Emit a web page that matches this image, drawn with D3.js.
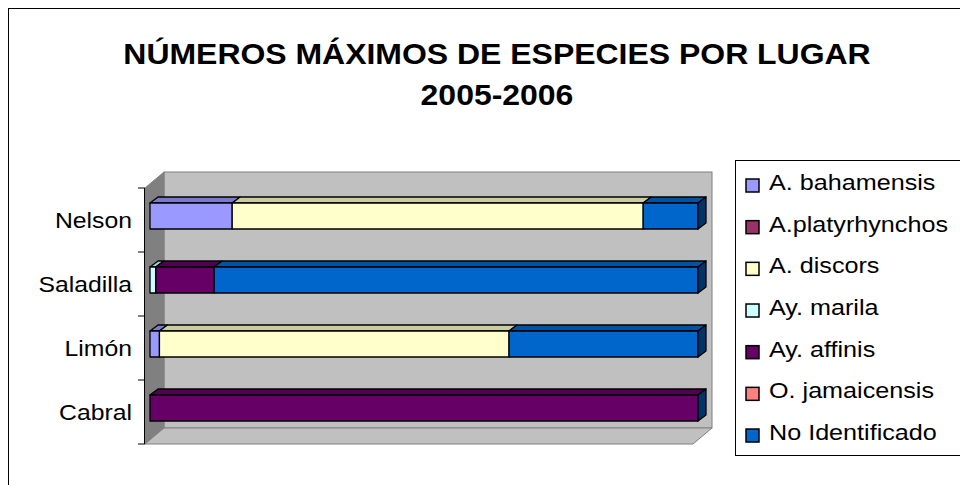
<!DOCTYPE html>
<html>
<head>
<meta charset="utf-8">
<script src="https://cdn.jsdelivr.net/npm/d3@7"></script>
<style>
  html, body { margin: 0; padding: 0; background: #fff; }
  svg { display: block; font-family: "Liberation Sans", Arial, sans-serif; }
</style>
</head>
<body>
<div id="chart"></div>
<script>
// categories in Excel order (first one sits at the bottom)
const categories = ['Cabral', 'Limón', 'Saladilla', 'Nelson'];

const seriesNames = ['A. bahamensis', 'A.platyrhynchos', 'A. discors', 'Ay. marila',
                     'Ay. affinis', 'O. jamaicensis', 'No Identificado'];
const seriesColors = ['#9999FF', '#993366', '#FFFFCC', '#CCFFFF', '#660066', '#FF8080', '#0066CC'];

// maximum counts per place
const bahamensis    = [0, 1, 0, 3];
const platyrhynchos = [0, 0, 0, 0];
const discors       = [0, 37, 0, 15];
const marila        = [0, 0, 1, 0];
const affinis       = [10, 0, 10, 0];
const jamaicensis   = [0, 0, 0, 0];
const noIdent       = [0, 20, 83, 2];

const titleLines = ['NÚMEROS MÁXIMOS DE ESPECIES POR LUGAR', '2005-2006'];

const seriesValues = [bahamensis, platyrhynchos, discors, marila, affinis, jamaicensis, noIdent];

const width = 960, height = 485;

// rows for d3.stack
const rows = categories.map((c, i) => {
    let r = {cat: c};
    seriesNames.forEach((s, k) => r[s] = seriesValues[k][i]);
    return r;
});

const stacked = d3.stack()
    .keys(seriesNames)
    .offset(d3.stackOffsetExpand)(rows);

const svg = d3.select('#chart')
    .append('svg')
        .attr('width', width)
        .attr('height', height);

// stretch text a bit, old Excel renders it wider than Arial metrics
function stretch(sel, factor, anchorRight) {
    sel.each(function(){
        let t = d3.select(this);
        let len = this.getComputedTextLength() * factor;
        t.attr('textLength', len).attr('lengthAdjust', 'spacingAndGlyphs');
        if (anchorRight != null) t.attr('x', anchorRight - len);
    });
}

// outer chart frame
svg.append('rect')
    .attr('x', 8.5).attr('y', 8.5)
    .attr('width', 980).attr('height', 500)
    .attr('fill', '#fff')
    .attr('stroke', '#000');

// title
svg.append('g')
    .selectAll('text')
    .data(titleLines)
    .join('text')
        .attr('x', 497)
        .attr('y', (d, i) => 63.5 + i * 41)
        .attr('text-anchor', 'middle')
        .attr('font-weight', 'bold')
        .attr('font-size', 30)
        .text(d => d)
        .call(stretch, 1.065);

// 3D box geometry
const front = {x0: 145, x1: 693, y0: 188, y1: 444};
const depth = {dx: 19, dy: 16};

const x = d3.scaleLinear().domain([0, 1]).range([front.x0, front.x1]);
const y = d3.scaleBand()
    .domain(categories.slice().reverse())
    .range([front.y0, front.y1]);

// walls
const walls = svg.append('g')
    .attr('stroke', '#808080')
    .attr('stroke-width', 1);

walls.append('rect')
    .attr('x', front.x0 + depth.dx).attr('y', front.y0 - depth.dy)
    .attr('width', front.x1 - front.x0).attr('height', front.y1 - front.y0)
    .attr('fill', '#C0C0C0');

walls.append('path')
    .attr('d', `M${front.x0},${front.y0}L${front.x0 + depth.dx},${front.y0 - depth.dy}L${front.x0 + depth.dx},${front.y1 - depth.dy}L${front.x0},${front.y1}Z`)
    .attr('fill', '#808080');

walls.append('path')
    .attr('d', `M${front.x0},${front.y1}L${front.x1},${front.y1}L${front.x1 + depth.dx},${front.y1 - depth.dy}L${front.x0 + depth.dx},${front.y1 - depth.dy}Z`)
    .attr('fill', '#C0C0C0');

// category axis
const axis = svg.append('g').attr('stroke', '#000');
axis.append('line')
    .attr('x1', front.x0 - 0.5).attr('x2', front.x0 - 0.5)
    .attr('y1', front.y0).attr('y2', front.y1);
axis.selectAll('line.tick')
    .data(d3.range(categories.length + 1))
    .join('line')
        .classed('tick', true)
        .attr('x1', front.x0 - 7).attr('x2', front.x0)
        .attr('y1', i => front.y0 + i * y.step())
        .attr('y2', i => front.y0 + i * y.step());

svg.append('g')
    .selectAll('text')
    .data(categories)
    .join('text')
        .attr('x', 132)
        .attr('y', d => y(d) + y.bandwidth() / 2 + 7.5)
        .attr('font-size', 22.5)
        .text(d => d)
        .call(stretch, 1.1, 132);

// bars
const barH = 26;
const barOff = {dx: 5, dy: -4};   // bar front face position inside the box
const barDepth = {dx: 8, dy: -6};

const barTop = c => y(c) + (y.bandwidth() - barH) / 2 + barOff.dy;
const bx = v => x(v) + barOff.dx;

const bars = svg.append('g')
    .attr('stroke', '#000')
    .attr('stroke-width', 1.3)
    .attr('stroke-linejoin', 'round');

stacked.forEach((layer, k) => {
    let col = d3.rgb(seriesColors[k]);
    let topCol = d3.rgb(col.r * 0.8, col.g * 0.8, col.b * 0.8);
    let segs = layer.filter(d => d[1] - d[0] > 0);

    // top faces
    bars.append('g')
        .selectAll('path')
        .data(segs)
        .join('path')
            .attr('fill', topCol)
            .attr('d', d => {
                let t = barTop(d.data.cat);
                let a = bx(d[0]), b = bx(d[1]);
                return `M${a},${t}L${a + barDepth.dx},${t + barDepth.dy}L${b + barDepth.dx},${t + barDepth.dy}L${b},${t}Z`;
            });

    // front faces
    bars.append('g')
        .selectAll('rect')
        .data(segs)
        .join('rect')
            .attr('fill', col)
            .attr('x', d => bx(d[0]))
            .attr('y', d => barTop(d.data.cat))
            .attr('width', d => bx(d[1]) - bx(d[0]))
            .attr('height', barH);
});

// right end caps take the side colour of the last series
const lastCol = d3.rgb(seriesColors[seriesColors.length - 1]);
const sideCol = d3.rgb(lastCol.r * 0.5, lastCol.g * 0.5, lastCol.b * 0.5);
bars.append('g')
    .selectAll('path')
    .data(categories)
    .join('path')
        .attr('fill', sideCol)
        .attr('d', c => {
            let t = barTop(c), r = bx(1);
            return `M${r},${t}L${r + barDepth.dx},${t + barDepth.dy}L${r + barDepth.dx},${t + barDepth.dy + barH}L${r},${t + barH}Z`;
        });

// legend
const legend = svg.append('g');
legend.append('rect')
    .attr('x', 735.5).attr('y', 160.5)
    .attr('width', 300).attr('height', 295)
    .attr('fill', '#fff')
    .attr('stroke', '#000');

const rowStep = 41.67;
const items = legend.selectAll('g.item')
    .data(seriesNames)
    .join('g')
        .classed('item', true)
        .attr('transform', (d, i) => `translate(0, ${i * rowStep})`);

items.append('rect')
    .attr('x', 746).attr('y', 179)
    .attr('width', 13).attr('height', 13)
    .attr('fill', (d, i) => seriesColors[i])
    .attr('stroke', '#000')
    .attr('stroke-width', 1.5);

items.append('text')
    .attr('x', 769)
    .attr('y', 190)
    .attr('font-size', 21.5)
    .text(d => d)
    .call(stretch, 1.17);
</script>
</body>
</html>
